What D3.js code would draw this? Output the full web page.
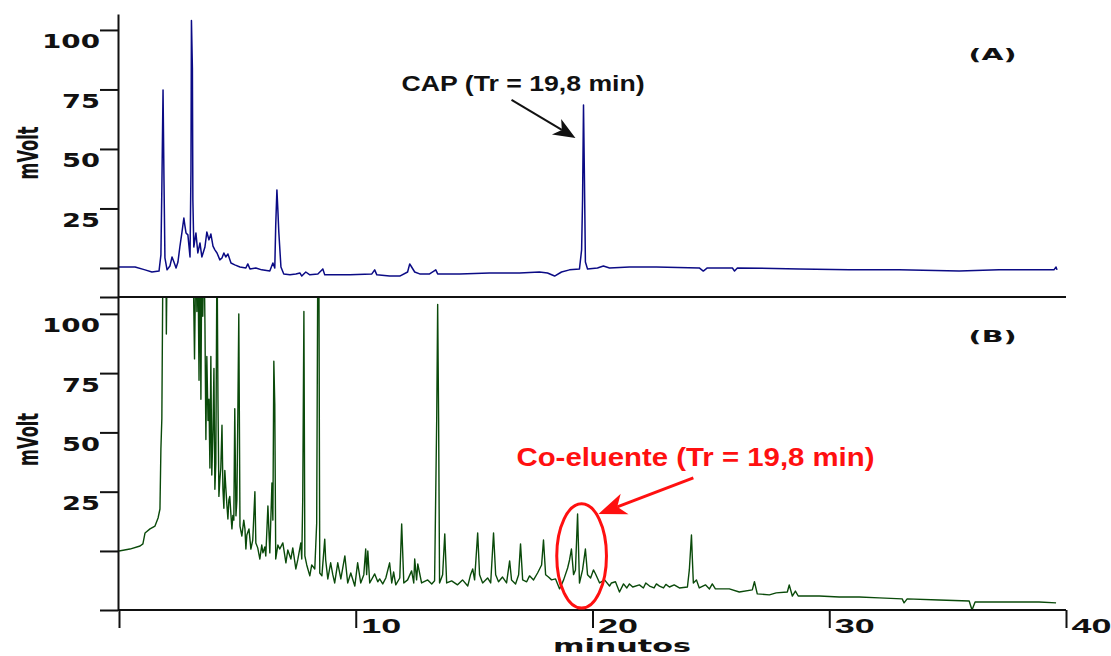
<!doctype html>
<html>
<head>
<meta charset="utf-8">
<script src="https://d3js.org/d3.v7.min.js"></script>
<style>
  body { margin: 0; background: #fff; }
  text { font-family: "Liberation Sans", Arial, sans-serif; font-weight: bold; }
  .heavy { font-family: "DejaVu Sans", "Liberation Sans", sans-serif; }
</style>
</head>
<body>
<svg width="1111" height="656"></svg>
<script>
// (A) padrao CAP : [minutos, mVolt]
var traceA = [[0,0.4],[0.68,0.4],[1.10,-0.8],[1.39,-1.7],[1.69,-1.3],[1.77,5.5],[1.81,33.6],[1.86,74.8],[1.90,37],[1.94,4.2],[2.03,-0.8],[2.15,0.8],[2.24,4.6],[2.32,2.5],[2.41,0],[2.49,2.5],[2.57,8.8],[2.66,15.1],[2.74,21],[2.78,18],[2.83,14.7],[2.91,13.9],[3.00,4.6],[3.04,41],[3.06,104],[3.10,84],[3.12,28.6],[3.16,8.8],[3.25,14.7],[3.33,6.3],[3.42,10.5],[3.50,4.6],[3.63,8.8],[3.71,15.1],[3.80,11.8],[3.88,14.3],[3.97,9.2],[4.05,7.6],[4.14,6.3],[4.26,3.4],[4.35,4.2],[4.43,6.3],[4.51,4.6],[4.60,5.9],[4.73,2.1],[4.89,1.3],[5.11,0.4],[5.36,0],[5.44,1.7],[5.53,-0.4],[5.78,0],[6.03,-0.8],[6.37,-1.3],[6.50,2.1],[6.58,0],[6.62,18],[6.67,32.8],[6.71,24.4],[6.75,15.1],[6.84,0.4],[6.96,-2.5],[7.22,-2.9],[7.47,-2.5],[7.64,-2.1],[7.72,-3.4],[7.89,-1.7],[8.06,-2.9],[8.40,-2.5],[8.61,-0.4],[8.69,-2.9],[9.11,-2.9],[9.75,-2.9],[10.68,-2.5],[10.80,-0.8],[10.89,-2.9],[11.43,-3.4],[11.86,-3.4],[12.19,-1.7],[12.28,1.7],[12.36,0.4],[12.49,-1.7],[12.70,-2.5],[13.12,-2.5],[13.38,-0.8],[13.46,-2.5],[14.39,-2.5],[15.65,-2.1],[16.92,-2.1],[17.76,-1.7],[18.10,-2.1],[18.40,-3.4],[18.69,-1.7],[19.03,-0.8],[19.45,-0.4],[19.54,7.6],[19.58,28.6],[19.62,68.5],[19.66,37],[19.70,2.5],[19.79,-0.4],[20.21,0],[20.46,0.8],[20.72,0],[21.56,0.4],[22.70,0.4],[24.51,0],[24.68,-1.3],[24.85,0],[25.91,0],[26.00,-1.3],[26.12,0],[28.73,-0.4],[30.84,-0.8],[32.95,-0.8],[35.49,-1.3],[37.17,-0.8],[39.49,-0.8],[39.58,0.4],[39.62,-0.8]];

// (B) amostra : [minutos, mVolt]  (values over 107 are off scale)
var traceB = [[0,0],[0.46,0.8],[0.89,2.1],[1.01,3.0],[1.10,7.6],[1.31,9.3],[1.52,10.5],[1.65,13.9],[1.73,17.7],[1.77,43],[1.81,56],[1.86,130],[1.98,130],[2.00,91.5],[2.04,130],[3.12,130],[3.19,81],[3.25,130],[3.29,101],[3.33,130],[3.38,72],[3.42,130],[3.46,64],[3.50,130],[3.54,99],[3.59,130],[3.63,96],[3.67,47],[3.71,82],[3.76,55],[3.80,64],[3.84,35],[3.88,82],[3.92,32],[3.97,51],[4.01,77],[4.05,26],[4.09,37],[4.14,130],[4.18,64],[4.22,23],[4.26,30],[4.30,35],[4.35,53],[4.39,26],[4.43,18],[4.47,34],[4.51,27],[4.56,19],[4.60,13.5],[4.64,21.5],[4.68,23],[4.73,15],[4.77,9.3],[4.81,15],[4.85,13],[4.89,60],[4.94,14.8],[4.98,21.5],[5.02,58],[5.06,100],[5.11,10.5],[5.19,6.3],[5.27,13],[5.32,9.3],[5.36,0.8],[5.40,6.7],[5.49,9.3],[5.57,0.8],[5.65,4.6],[5.74,25],[5.78,3.4],[5.86,1.3],[5.95,-3.4],[6.03,2.5],[6.08,-0.8],[6.16,1.7],[6.20,-2.1],[6.29,19],[6.37,-0.8],[6.46,28.7],[6.50,13],[6.54,80],[6.58,62],[6.62,-3.4],[6.71,2.5],[6.79,0.8],[6.92,3.4],[7.05,-5],[7.13,0.4],[7.26,-3.4],[7.34,1.3],[7.47,-7.6],[7.55,-3.8],[7.68,3.4],[7.72,-3.4],[7.76,21.5],[7.81,101],[7.85,-2.1],[7.93,-5.9],[8.06,-10.5],[8.14,-5.9],[8.27,-7.6],[8.35,11.8],[8.40,130],[8.44,130],[8.48,-9.3],[8.57,-10.5],[8.69,5],[8.73,-3.8],[8.82,-11.8],[8.94,-5],[9.03,-10],[9.11,-13.5],[9.24,-5],[9.37,-11.8],[9.45,-7.2],[9.54,-2.1],[9.66,-13.5],[9.79,-9.3],[9.96,-14.8],[10.08,-5],[10.21,-13.5],[10.34,-10],[10.42,0.8],[10.46,-10],[10.51,0],[10.59,-13.5],[10.80,-9.7],[10.93,-13],[11.01,-11.8],[11.14,-13.9],[11.27,-11.4],[11.43,-5],[11.52,-13.5],[11.60,-8.9],[11.69,-14.3],[11.86,-11.4],[11.94,11.4],[12.03,-13.5],[12.19,-12.2],[12.36,-8.4],[12.45,-13.5],[12.49,-3.4],[12.57,-12.2],[12.62,-5.5],[12.78,-13.5],[13.04,-12.2],[13.21,-13.9],[13.33,-12.6],[13.42,56],[13.46,104],[13.50,56],[13.54,-13.5],[13.67,-10],[13.76,7.2],[13.84,-13.5],[14.05,-12.6],[14.30,-14.3],[14.51,-12.2],[14.73,-14.8],[14.85,-10],[14.94,-7.6],[15.02,-12.2],[15.15,7.6],[15.23,-10],[15.36,-13.5],[15.57,-11.4],[15.70,-13.5],[15.82,7.6],[15.91,-10],[16.03,-13],[16.20,-11],[16.37,-13.5],[16.50,-4.2],[16.58,-12.2],[16.75,-13.9],[16.88,-10],[16.96,3],[17.05,-12.2],[17.22,-13],[17.34,-10.5],[17.51,-12.2],[17.68,-9.3],[17.85,-5.9],[17.93,4.6],[18.02,-10],[18.14,-11],[18.27,-12.2],[18.44,-11.8],[18.61,-16],[18.78,-12.2],[18.95,-7.2],[19.03,-3.8],[19.11,0.8],[19.20,-10],[19.28,-8],[19.37,15.6],[19.45,-13.5],[19.58,-8],[19.70,0.8],[19.79,-10],[19.92,-11.4],[20.04,-8],[20.13,-9.7],[20.30,-13.5],[20.51,-12.2],[20.72,-14.8],[20.80,-13.5],[20.97,-13],[21.14,-17.3],[21.31,-13.9],[21.45,-15.6],[21.56,-13.9],[21.70,-15.2],[21.98,-14.3],[22.15,-15.6],[22.25,-13.5],[22.41,-14.8],[22.60,-15.6],[22.70,-13.9],[22.83,-14.8],[23.00,-15.6],[23.10,-14.1],[23.25,-15.2],[23.45,-14.3],[23.67,-15.6],[24.01,-15.2],[24.09,-8],[24.18,6.7],[24.22,-3.8],[24.26,-13.5],[24.39,-12.2],[24.51,-15.6],[24.77,-14.3],[24.94,-16],[25.06,-13.9],[25.19,-16],[25.78,-16],[26.20,-17.3],[26.75,-16.4],[26.84,-13],[26.96,-18.1],[27.47,-18.5],[27.76,-17.7],[28.23,-17.3],[28.31,-14.3],[28.44,-19],[28.57,-16.9],[28.69,-19],[29.58,-19],[30.42,-19.4],[31.27,-19.4],[32.11,-19.8],[33.08,-20.2],[33.16,-21.9],[33.29,-20.2],[34.64,-20.7],[35.91,-21.1],[36.03,-24.9],[36.16,-21.5],[37.17,-21.5],[38.86,-21.5],[39.58,-21.9]];

var xTicks = [0, 10, 20, 30, 40];
var yTicks = [0, 25, 50, 75, 100];
var xTitle = "minutos";
var yTitle = "mVolt";
var capLabel = "CAP (Tr = 19,8 min)";
var coLabel = "Co-eluente (Tr = 19,8 min)";

var svg = d3.select("svg");

var x = d3.scaleLinear().domain([0, 40]).range([119, 1066]);
var yA = d3.scaleLinear().domain([-12.2, 106.7]).range([297, 14]);
var yB = d3.scaleLinear().domain([-24.9, 107.1]).range([610, 297]);

// clip for the off-scale peaks of (B)
svg.append("clipPath").attr("id", "clipB")
  .append("rect").attr("x", 119).attr("y", 297).attr("width", 950).attr("height", 313);

var line = function(ys) {
  return d3.line().x(function(d) { return x(d[0]); }).y(function(d) { return ys(d[1]); });
};

svg.append("path").datum(traceA)
  .attr("d", line(yA))
  .attr("fill", "none").attr("stroke", "#0b0b85").attr("stroke-width", 1.5)
  .attr("stroke-linejoin", "round");

svg.append("path").datum(traceB)
  .attr("d", line(yB))
  .attr("clip-path", "url(#clipB)")
  .attr("fill", "none").attr("stroke", "#0a4a0a").attr("stroke-width", 1.4)
  .attr("stroke-linejoin", "round");

// y axes
function yAxis(ys, lo) {
  var g = svg.append("g").attr("transform", "translate(118,0)")
    .call(d3.axisLeft(ys).tickValues([lo].concat(yTicks)).tickSize(18).tickSizeOuter(0).tickPadding(0)
      .tickFormat(function(d) { return d > 0 ? d : ""; }));
  g.selectAll("path, line").attr("stroke", "#111").attr("stroke-width", 2);
  g.selectAll("text")
    .attr("class", "heavy")
    .attr("fill", "#111").attr("font-size", 19).attr("dy", 18)
    .attr("textLength", function(d) { return d >= 100 ? 58 : 38; })
    .attr("lengthAdjust", "spacingAndGlyphs");
}
yAxis(yA, -12.2);
yAxis(yB, -24.9);

// separator between panels
svg.append("line").attr("x1", 118).attr("x2", x(40)).attr("y1", yA(-12.2)).attr("y2", yA(-12.2))
  .attr("stroke", "#111").attr("stroke-width", 2);

// x axis
var gx = svg.append("g").attr("transform", "translate(0,610)")
  .call(d3.axisBottom(x).tickValues(xTicks).tickSize(18).tickSizeOuter(0)
    .tickFormat(function(d) { return d > 0 ? d : ""; }));
gx.selectAll("path, line").attr("stroke", "#111").attr("stroke-width", 2);
gx.select(".domain").attr("d", "M118,0H" + x(40));
gx.selectAll("text")
  .attr("fill", "#111").attr("font-size", 21)
  .attr("text-anchor", "start").attr("x", 5).attr("y", 23).attr("dy", 0)
  .attr("textLength", 40).attr("lengthAdjust", "spacingAndGlyphs");

svg.append("text").text(xTitle)
  .attr("class", "heavy")
  .attr("x", 622).attr("y", 652).attr("text-anchor", "middle")
  .attr("font-size", 18).attr("fill", "#111")
  .attr("textLength", 138).attr("lengthAdjust", "spacingAndGlyphs");

// y titles
[yA(50) + 4, yB(50) + 7].forEach(function(cy) {
  svg.append("text").text(yTitle)
    .attr("class", "heavy")
    .attr("transform", "translate(28," + cy + ") scale(1.45,1) rotate(-90)")
    .attr("text-anchor", "middle").attr("dy", "0.36em")
    .attr("font-size", 19).attr("fill", "#111")
    .attr("textLength", 53).attr("lengthAdjust", "spacingAndGlyphs");
});

// panel tags
svg.append("text").text("(A)").attr("class", "heavy").attr("x", x(36.9)).attr("y", yA(87.4))
  .attr("text-anchor", "middle").attr("font-size", 16).attr("fill", "#111")
  .attr("textLength", 48).attr("lengthAdjust", "spacingAndGlyphs");
svg.append("text").text("(B)").attr("class", "heavy").attr("x", x(36.9)).attr("y", yB(88.1))
  .attr("text-anchor", "middle").attr("font-size", 16).attr("fill", "#111")
  .attr("textLength", 48).attr("lengthAdjust", "spacingAndGlyphs");

// arrows
function arrow(x1, y1, x2, y2, color, w, len, half) {
  var a = Math.atan2(y2 - y1, x2 - x1), c = Math.cos(a), s = Math.sin(a);
  var bx = x2 - c * len, by = y2 - s * len;
  var nx = x2 - c * len * 0.72, ny = y2 - s * len * 0.72;
  svg.append("line").attr("x1", x1).attr("y1", y1).attr("x2", nx).attr("y2", ny)
    .attr("stroke", color).attr("stroke-width", w);
  svg.append("path")
    .attr("d", "M" + x2 + "," + y2 + "L" + (bx - s * half) + "," + (by + c * half) +
      "L" + nx + "," + ny + "L" + (bx + s * half) + "," + (by - c * half) + "Z")
    .attr("fill", color);
}

svg.append("text").text(capLabel)
  .attr("x", x(17.07)).attr("y", yA(74.4)).attr("text-anchor", "middle")
  .attr("font-size", 22).attr("fill", "#111")
  .attr("textLength", 243).attr("lengthAdjust", "spacingAndGlyphs");
arrow(x(16.58), yA(70.6), x(19.28), yA(54.6), "#111", 2, 22, 9);

svg.append("text").text(coLabel)
  .attr("x", x(24.35)).attr("y", yB(35.8)).attr("text-anchor", "middle")
  .attr("font-size", 26).attr("fill", "#ff1010")
  .attr("textLength", 358).attr("lengthAdjust", "spacingAndGlyphs");
arrow(x(24.26), yB(30.8), x(20.25), yB(15.6), "#ff1010", 3, 28, 11);

svg.append("ellipse")
  .attr("cx", x(19.54)).attr("cy", yB(-2.1))
  .attr("rx", x(1.05) - x(0)).attr("ry", yB(0) - yB(22))
  .attr("fill", "none").attr("stroke", "#ff1010").attr("stroke-width", 3);
</script>
</body>
</html>
